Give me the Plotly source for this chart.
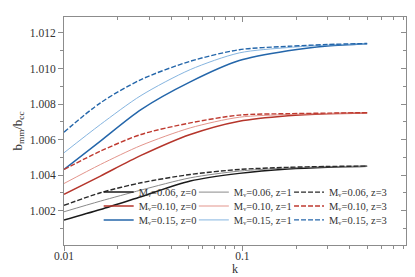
import plotly.graph_objects as go

k = [0.01, 0.016, 0.027, 0.051, 0.096, 0.18, 0.3, 0.5]

b_006_z0 = [1.00148, 1.00207, 1.00279, 1.00367, 1.00410, 1.00435, 1.00445, 1.00450]
b_006_z1 = [1.00194, 1.00254, 1.00316, 1.00385, 1.00423, 1.00440, 1.00447, 1.00450]
b_006_z3 = [1.00230, 1.00301, 1.00357, 1.00404, 1.00432, 1.00444, 1.00449, 1.00451]
b_010_z0 = [1.00292, 1.00395, 1.00511, 1.00629, 1.00704, 1.00735, 1.00746, 1.00750]
b_010_z1 = [1.00353, 1.00460, 1.00567, 1.00666, 1.00726, 1.00741, 1.00747, 1.00750]
b_010_z3 = [1.00432, 1.00535, 1.00629, 1.00694, 1.00738, 1.00746, 1.00749, 1.00752]
b_015_z0 = [1.00432, 1.00592, 1.00769, 1.00925, 1.01045, 1.01100, 1.01127, 1.01140]
b_015_z1 = [1.00526, 1.00685, 1.00848, 1.00994, 1.01088, 1.01118, 1.01132, 1.01140]
b_015_z3 = [1.00642, 1.00807, 1.00938, 1.01041, 1.01106, 1.01125, 1.01135, 1.01141]

y_ticks = [1.002, 1.004, 1.006, 1.008, 1.010, 1.012]
y_minor = [1.001, 1.003, 1.005, 1.007, 1.009, 1.011]
x_ticks = [0.01, 0.1]
x_minor = [0.02, 0.03, 0.04, 0.05, 0.06, 0.07, 0.08, 0.09, 0.2, 0.3, 0.4, 0.5, 0.6, 0.7, 0.8]

series = [
    # (values, label, color, width, dash)
    (b_006_z0, "M\u1d65=0.06, z=0", "#1a1a1a", 1.5, "solid"),
    (b_010_z0, "M\u1d65=0.10, z=0", "#b5352b", 1.5, "solid"),
    (b_015_z0, "M\u1d65=0.15, z=0", "#2466aa", 1.5, "solid"),
    (b_006_z1, "M\u1d65=0.06, z=1", "#8a8a8a", 1.0, "solid"),
    (b_010_z1, "M\u1d65=0.10, z=1", "#e3958c", 1.0, "solid"),
    (b_015_z1, "M\u1d65=0.15, z=1", "#86b5e0", 1.0, "solid"),
    (b_006_z3, "M\u1d65=0.06, z=3", "#2a2a2a", 1.4, "5px,2px"),
    (b_010_z3, "M\u1d65=0.10, z=3", "#bf3a30", 1.4, "5px,2px"),
    (b_015_z3, "M\u1d65=0.15, z=3", "#2466aa", 1.4, "5px,2px"),
]

font = "Liberation Serif, DejaVu Serif, serif"
axcol = "#8c8c8c"

fig = go.Figure()
leg_layout = {}
col_x = [0.1014, 0.3797, 0.658]
row_y = [0.232, 0.171, 0.110]
for i, (vals, name, col, w, dash) in enumerate(series):
    lg = "legend" if i == 0 else "legend%d" % (i + 1)
    fig.add_trace(go.Scatter(
        x=k, y=vals, mode="lines", name=name, legend=lg,
        line=dict(color=col, width=w, dash=dash, shape="spline", smoothing=0.8),
    ))
    leg_layout[lg] = dict(
        x=col_x[i // 3], y=row_y[i % 3], xanchor="left", yanchor="middle",
        bgcolor="rgba(0,0,0,0)", borderwidth=0,
        font=dict(family=font, size=10.5, color="#333333"), itemwidth=30,
    )

# dummy traces for extra tick-only axes
fig.add_trace(go.Scatter(x=[None], y=[None], xaxis="x2", yaxis="y2",
                         showlegend=False, hoverinfo="skip"))
fig.add_trace(go.Scatter(x=[None], y=[None], xaxis="x3", yaxis="y",
                         showlegend=False, hoverinfo="skip"))

xr = [-2, -0.0833]
yr = [1.00007, 1.0129]

fig.update_layout(
    width=415, height=277,
    margin=dict(l=53, r=17, t=9, b=40),
    paper_bgcolor="white", plot_bgcolor="white",
    font=dict(family=font, size=11.5, color="#333333"),
    showlegend=True,
    xaxis=dict(type="log", range=xr, tickvals=x_ticks, ticktext=["0.01", "0.1"],
               ticks="", showgrid=False, zeroline=False,
               showline=True, linecolor=axcol, linewidth=1,
               title=dict(text="k", font=dict(size=12), standoff=3)),
    xaxis3=dict(type="log", range=xr, overlaying="x", side="bottom", anchor="y",
                tickvals=x_ticks, showticklabels=False, ticks="outside", ticklen=5, tickcolor=axcol,
                showgrid=False, zeroline=False, showline=False,
                minor=dict(tickvals=x_minor, ticks="outside", ticklen=3, tickcolor=axcol, showgrid=False)),
    yaxis=dict(range=yr, tickvals=y_ticks, ticktext=["%.3f" % v for v in y_ticks],
               ticks="outside", ticklen=5, tickcolor=axcol, showgrid=False, zeroline=False,
               showline=True, linecolor=axcol, linewidth=1,
               minor=dict(tickvals=y_minor, ticks="outside", ticklen=3, tickcolor=axcol, showgrid=False),
               title=dict(text="b<sub>mm</sub>/b<sub>cc</sub>", font=dict(size=13), standoff=4)),
    xaxis2=dict(type="log", range=xr, overlaying="x", side="top", anchor="y",
                tickvals=x_ticks, showticklabels=False, ticks="inside", ticklen=5, tickcolor=axcol,
                showgrid=False, zeroline=False, showline=True, linecolor=axcol, linewidth=1,
                minor=dict(tickvals=x_minor, ticks="inside", ticklen=3, tickcolor=axcol, showgrid=False)),
    yaxis2=dict(range=yr, overlaying="y", side="right", anchor="x",
                tickvals=y_ticks, showticklabels=False, ticks="inside", ticklen=5, tickcolor=axcol,
                showgrid=False, zeroline=False, showline=True, linecolor=axcol, linewidth=1,
                minor=dict(tickvals=y_minor, ticks="inside", ticklen=3, tickcolor=axcol, showgrid=False)),
    **leg_layout,
)

fig.write_html("out.html")
